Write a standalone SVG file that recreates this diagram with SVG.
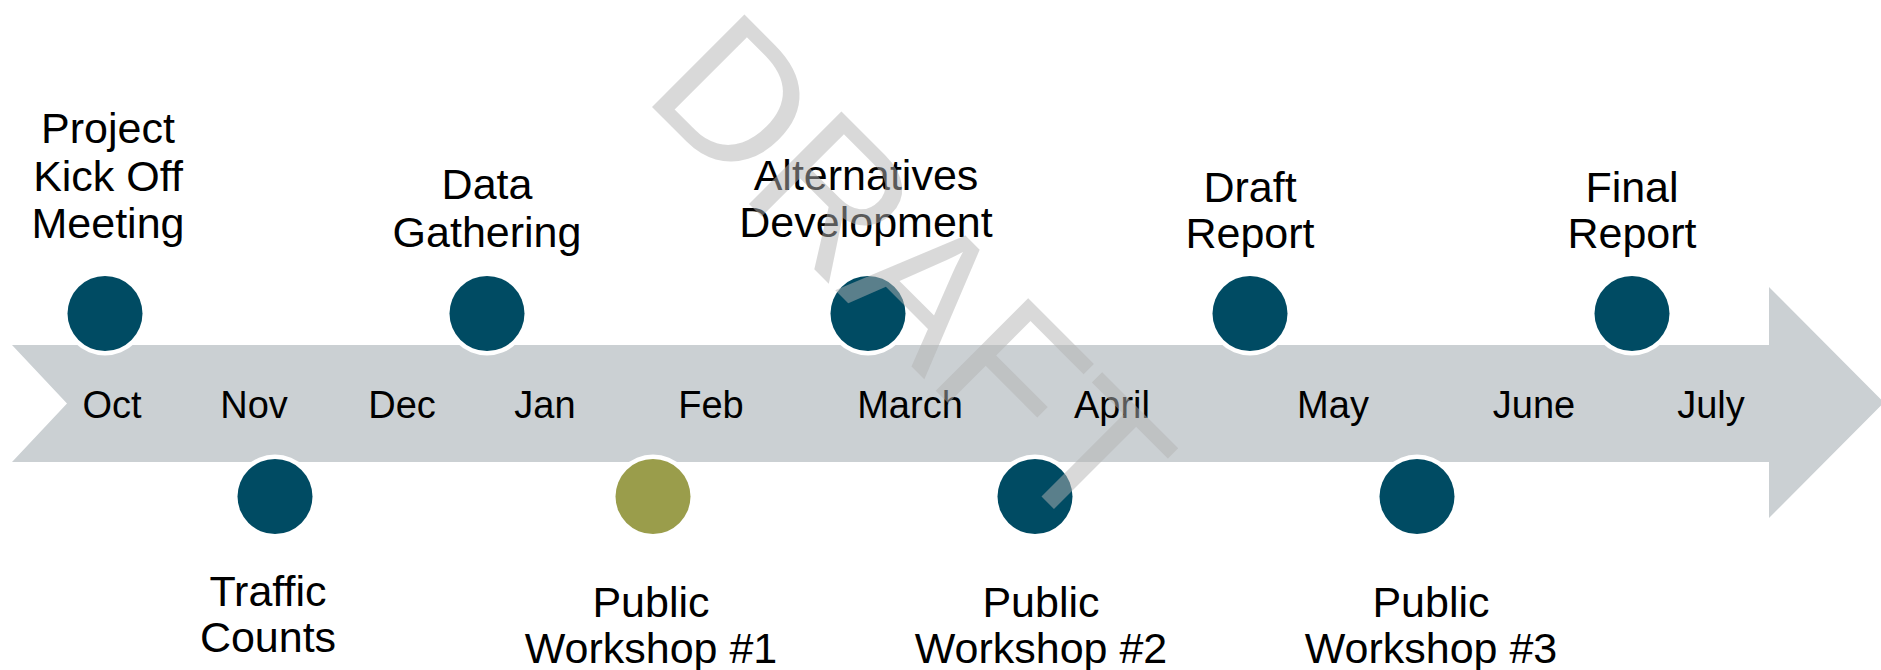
<svg xmlns="http://www.w3.org/2000/svg" width="1881" height="670" viewBox="0 0 1881 670">
  <style>
    .lbl { font-family: "Liberation Sans", Arial, sans-serif; font-size: 43px; fill: #000; text-anchor: middle; }
    .mon { font-family: "Liberation Sans", Arial, sans-serif; font-size: 38px; fill: #000; text-anchor: middle; }
    .ring { fill: #FFFFFF; }
    .dot { fill: #004B63; }
    .dot-alt { fill: #9A9D4B; }
    .wm { font-family: "Liberation Sans", Arial, sans-serif; font-size: 190px; fill: #B4B4B4; fill-opacity: 0.5; }
  </style>
  <rect width="1881" height="670" fill="#FFFFFF"/>

  <g id="connectors">
    <path id="timeline-arrow" d="M 12,345 L 1769,345 L 1769,287 L 1884,402.5 L 1769,518 L 1769,462 L 12,462 L 67,403.5 Z" fill="#CBD0D3"/>
  </g>

  <g id="months">
    <text class="mon" x="112" y="418">Oct</text>
    <text class="mon" x="254" y="418">Nov</text>
    <text class="mon" x="402" y="418">Dec</text>
    <text class="mon" x="545" y="418">Jan</text>
    <text class="mon" x="711" y="418">Feb</text>
    <text class="mon" x="910" y="418">March</text>
    <text class="mon" x="1112" y="418">April</text>
    <text class="mon" x="1333" y="418">May</text>
    <text class="mon" x="1534" y="418">June</text>
    <text class="mon" x="1711" y="418">July</text>
  </g>

  <g id="node-kickoff">
    <circle class="ring" cx="105" cy="313.5" r="42"/>
    <circle class="dot" cx="105" cy="313.5" r="37.5"/>
    <text class="lbl" x="108" y="143">Project</text>
    <text class="lbl" x="108" y="191">Kick Off</text>
    <text class="lbl" x="108" y="238">Meeting</text>
  </g>

  <g id="node-traffic">
    <circle class="ring" cx="275" cy="496.5" r="42"/>
    <circle class="dot" cx="275" cy="496.5" r="37.5"/>
    <text class="lbl" x="268" y="606">Traffic</text>
    <text class="lbl" x="268" y="652">Counts</text>
  </g>

  <g id="node-data">
    <circle class="ring" cx="487" cy="313.5" r="42"/>
    <circle class="dot" cx="487" cy="313.5" r="37.5"/>
    <text class="lbl" x="487" y="199">Data</text>
    <text class="lbl" x="487" y="247">Gathering</text>
  </g>

  <g id="node-workshop1">
    <circle class="ring" cx="653" cy="496.5" r="42"/>
    <circle class="dot-alt" cx="653" cy="496.5" r="37.5"/>
    <text class="lbl" x="651" y="617">Public</text>
    <text class="lbl" x="651" y="663">Workshop #1</text>
  </g>

  <g id="node-alternatives">
    <circle class="ring" cx="868" cy="313.5" r="42"/>
    <circle class="dot" cx="868" cy="313.5" r="37.5"/>
    <text class="lbl" x="866" y="190">Alternatives</text>
    <text class="lbl" x="866" y="237">Development</text>
  </g>

  <g id="node-workshop2">
    <circle class="ring" cx="1035" cy="496.5" r="42"/>
    <circle class="dot" cx="1035" cy="496.5" r="37.5"/>
    <text class="lbl" x="1041" y="617">Public</text>
    <text class="lbl" x="1041" y="663">Workshop #2</text>
  </g>

  <g id="node-draft">
    <circle class="ring" cx="1250" cy="313.5" r="42"/>
    <circle class="dot" cx="1250" cy="313.5" r="37.5"/>
    <text class="lbl" x="1250" y="202">Draft</text>
    <text class="lbl" x="1250" y="248">Report</text>
  </g>

  <g id="node-workshop3">
    <circle class="ring" cx="1417" cy="496.5" r="42"/>
    <circle class="dot" cx="1417" cy="496.5" r="37.5"/>
    <text class="lbl" x="1431" y="617">Public</text>
    <text class="lbl" x="1431" y="663">Workshop #3</text>
  </g>

  <g id="node-final">
    <circle class="ring" cx="1632" cy="313.5" r="42"/>
    <circle class="dot" cx="1632" cy="313.5" r="37.5"/>
    <text class="lbl" x="1632" y="202">Final</text>
    <text class="lbl" x="1632" y="248">Report</text>
  </g>

  <g id="watermark">
    <text class="wm" transform="translate(641,96) rotate(45)" x="0" y="0">DRAFT</text>
  </g>
</svg>
